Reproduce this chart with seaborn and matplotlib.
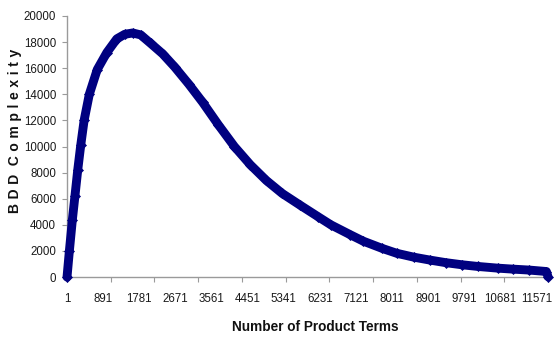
import numpy as np
import matplotlib
matplotlib.use("Agg")
import matplotlib.pyplot as plt
import seaborn as sns
import pandas as pd

# Values
terms = [1, 59, 133, 196, 265, 339, 422, 550, 746, 982, 1228, 1424, 1620, 1817,
         2062, 2357, 2651, 2995, 3339, 3732, 4124, 4517, 4910, 5303, 5745, 6186,
         6500, 6972, 7296, 7758, 8120, 8543, 8936, 9329, 9722, 10115, 10607,
         10998, 11391, 11810, 11849]
complexity = [0, 2000, 4400, 6200, 8200, 10100, 12000, 14000, 15900, 17200, 18250,
              18600, 18700, 18550, 17900, 17100, 16100, 14800, 13400, 11650, 10000,
              8600, 7400, 6400, 5500, 4620, 4000, 3250, 2750, 2200, 1820, 1520,
              1300, 1100, 940, 810, 680, 600, 530, 420, 30]
x_tick_labels = [1, 891, 1781, 2671, 3561, 4451, 5341, 6231, 7121, 8011, 8901,
                 9791, 10681, 11571]
y_ticks = [0, 2000, 4000, 6000, 8000, 10000, 12000, 14000, 16000, 18000, 20000]

sns.set_style("white")
plt.rcParams["font.family"] = ["Liberation Sans", "DejaVu Sans"]

W, H = 554, 341
fig = plt.figure(figsize=(W / 100, H / 100), dpi=100)
ax = fig.add_axes([67 / W, 1 - 277 / H, 481 / W, 261 / H])

df = pd.DataFrame({"terms": terms, "complexity": complexity})
sns.lineplot(data=df, x="terms", y="complexity", ax=ax, color="#000080",
             linewidth=6.4, marker="D", markersize=5.2, markeredgewidth=0.5,
             markeredgecolor="#000080", markerfacecolor="#000080",
             clip_on=False, sort=True, estimator=None, zorder=5)
for ln in ax.lines:
    ln.set_solid_joinstyle("round")
    ln.set_solid_capstyle("round")

x_max = 11849.5
ax.set_xlim(0.5, x_max)
ax.set_ylim(0, 20000)

# major ticks: marks only, evenly dividing the axis
ax.set_xticks(np.linspace(0.5, x_max, 12))
ax.set_xticklabels([])
# minor ticks: labels only
ax.set_xticks(x_tick_labels, minor=True)
ax.set_xticklabels([str(v) for v in x_tick_labels], minor=True)
ax.tick_params(axis="x", which="major", direction="out", length=3.8, width=0.8,
               color="#9a9a9a", bottom=True)
ax.tick_params(axis="x", which="minor", length=0, pad=11.5, labelsize=8.3,
               labelcolor="#1a1a1a", bottom=True)

ax.set_yticks(y_ticks)
ax.set_yticklabels([str(v) for v in y_ticks])
ax.tick_params(axis="y", direction="out", length=3.8, width=0.8, color="#9a9a9a",
               pad=4, labelsize=8.3, labelcolor="#1a1a1a", left=True)

for s in ["top", "right"]:
    ax.spines[s].set_visible(False)
for s in ["left", "bottom"]:
    ax.spines[s].set_color("#9a9a9a")
    ax.spines[s].set_linewidth(1.0)

ax.set_xlabel("Number of Product Terms", fontsize=9.8, fontweight="bold",
              color="#111111")
ax.xaxis.set_label_coords(0.516, -0.19)
sp = "\u2004"
ax.set_ylabel(sp.join("BDD") + sp + " " + sp.join("Complexity"),
              fontsize=10, fontweight="bold", color="#111111")
ax.yaxis.set_label_coords(-0.108, 0.56)
ax.yaxis.label.set_va("center")
ax.xaxis.label.set_va("center")

fig.savefig("out.png", dpi=100, facecolor="white")
